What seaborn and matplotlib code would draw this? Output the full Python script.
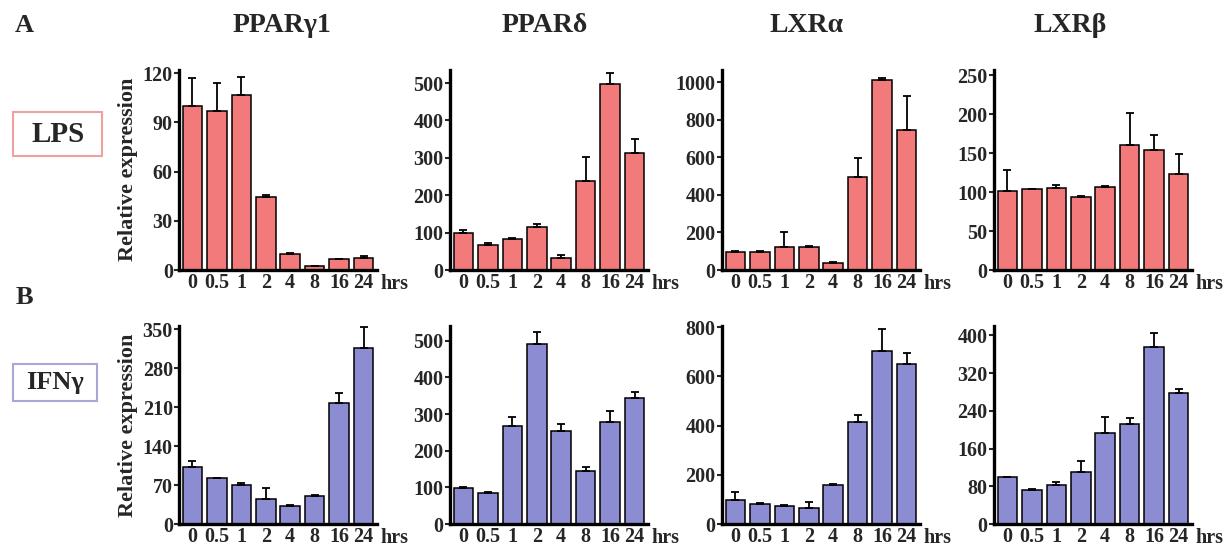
import numpy as np
import matplotlib
matplotlib.use('Agg')
import matplotlib.pyplot as plt
from matplotlib.patches import Rectangle
import seaborn as sns

# Data
hours = ['0', '0.5', '1', '2', '4', '8', '16', '24']
genes = ['PPARγ1', 'PPARδ', 'LXRα', 'LXRβ']

lps_ppar_g1 = [100, 97, 107, 44.5, 10, 2.2, 6.5, 7.5]
lps_ppar_g1_err = [17, 17, 10.5, 1.5, 0.6, 0.4, 0.5, 0.8]
lps_ppar_d = [100, 66, 82, 114, 33, 239, 497, 312]
lps_ppar_d_err = [7, 6, 3, 8, 6, 63, 29, 38]
lps_lxr_a = [97, 97, 125, 123, 39, 497, 1010, 745]
lps_lxr_a_err = [3, 5, 80, 4, 3, 97, 10, 180]
lps_lxr_b = [101, 104, 106, 93.5, 107, 160, 154, 124]
lps_lxr_b_err = [27, 0.7, 3, 1.5, 1.5, 42, 20, 25]

ifn_ppar_g1 = [102, 83, 70, 44.5, 32.6, 50, 218, 316]
ifn_ppar_g1_err = [12, 0.5, 4, 20, 1.4, 3, 18, 38]
ifn_ppar_d = [97, 85, 268, 491, 255, 144, 279, 345]
ifn_ppar_d_err = [3, 1.5, 23, 34, 18, 12, 30, 14]
ifn_lxr_a = [99, 83, 75, 66, 159, 414, 704, 652]
ifn_lxr_a_err = [33, 1, 4, 23, 4, 28, 87, 42]
ifn_lxr_b = [99, 72, 82, 110, 193, 213, 375, 277]
ifn_lxr_b_err = [1, 2, 8, 24, 33, 11, 30, 9]

lps_yticks = [[0, 30, 60, 90, 120], [0, 100, 200, 300, 400, 500],
              [0, 200, 400, 600, 800, 1000], [0, 50, 100, 150, 200, 250]]
lps_ytop = [122, 535, 1065, 257]
ifn_yticks = [[0, 70, 140, 210, 280, 350], [0, 100, 200, 300, 400, 500],
              [0, 200, 400, 600, 800], [0, 80, 160, 240, 320, 400]]
ifn_ytop = [356, 540, 805, 420]

LPS_COLOR = '#F27A7A'
IFN_COLOR = '#8C8CD2'
TICK_SIZE = 14.5

sns.set_style('ticks')
plt.rcParams['font.family'] = ['Liberation Serif', 'DejaVu Serif']
plt.rcParams['font.weight'] = 'bold'

W, H = 1225, 548
fig = plt.figure(figsize=(W / 100, H / 100), dpi=100)

lefts = [179, 450, 722, 994]
rows = [
    dict(bottom=270, top=70, color=LPS_COLOR,
         vals=[lps_ppar_g1, lps_ppar_d, lps_lxr_a, lps_lxr_b],
         errs=[lps_ppar_g1_err, lps_ppar_d_err, lps_lxr_a_err, lps_lxr_b_err],
         yticks=lps_yticks, ytop=lps_ytop),
    dict(bottom=524, top=326, color=IFN_COLOR,
         vals=[ifn_ppar_g1, ifn_ppar_d, ifn_lxr_a, ifn_lxr_b],
         errs=[ifn_ppar_g1_err, ifn_ppar_d_err, ifn_lxr_a_err, ifn_lxr_b_err],
         yticks=ifn_yticks, ytop=ifn_ytop),
]


def draw_panel(ax, vals, errs, color, yticks, ytop):
    """ Bar chart with upward-only error bars. """
    sns.barplot(ax=ax, x=hours, y=vals, color=color, edgecolor='black',
                linewidth=1.1, width=0.8, saturation=1)
    x = np.arange(len(hours))
    ax.errorbar(x, vals, yerr=[np.zeros(len(vals)), errs], fmt='none',
                ecolor='black', elinewidth=1.3, capsize=3, capthick=1.3)
    ax.set_xlim(-0.55, 7.55)
    ax.set_ylim(0, ytop)
    ax.set_yticks(yticks)
    sns.despine(ax=ax)
    for s in ['left', 'bottom']:
        ax.spines[s].set_linewidth(2.4)
        ax.spines[s].set_color('black')
    ax.tick_params(axis='y', length=3.5, width=1.5, pad=1, labelsize=TICK_SIZE)
    ax.tick_params(axis='x', length=0, pad=2, labelsize=TICK_SIZE)
    ax.set_xlabel('')
    ax.set_ylabel('')
    ax.text(1.09, -0.072, 'hrs', transform=ax.transAxes, ha='center',
            va='center', fontsize=TICK_SIZE, fontweight='bold')


for row in rows:
    for i in range(4):
        ax = fig.add_axes([lefts[i] / W, 1 - row['bottom'] / H, 198 / W,
                           (row['bottom'] - row['top']) / H])
        draw_panel(ax, row['vals'][i], row['errs'][i], row['color'],
                   row['yticks'][i], row['ytop'][i])

# Column titles and panel letters
title_x = [282, 545, 807, 1070]
for gx, g in zip(title_x, genes):
    fig.text(gx / W, 1 - 25 / H, g, ha='center', va='center',
             fontsize=20, fontweight='bold')
fig.text(24 / W, 1 - 25 / H, 'A', ha='center', va='center', fontsize=19, fontweight='bold')
fig.text(24 / W, 1 - 297 / H, 'B', ha='center', va='center', fontsize=19, fontweight='bold')

# Treatment boxes
fig.patches.append(Rectangle((13 / W, 1 - 156 / H), 89 / W, 44 / H, transform=fig.transFigure,
                             fill=False, edgecolor='#F0A0A0', linewidth=1.5))
fig.text(58 / W, 1 - 134 / H, 'LPS', ha='center', va='center', fontsize=21, fontweight='bold')
fig.patches.append(Rectangle((13 / W, 1 - 401 / H), 84 / W, 37 / H, transform=fig.transFigure,
                             fill=False, edgecolor='#A8A8D8', linewidth=1.5))
fig.text(55 / W, 1 - 383 / H, 'IFNγ', ha='center', va='center', fontsize=19, fontweight='bold')

# Y labels
fig.text(128 / W, 1 - 169 / H, 'Relative expression', rotation=90, ha='center',
         va='center', fontsize=16, fontweight='bold')
fig.text(128 / W, 1 - 425 / H, 'Relative expression', rotation=90, ha='center',
         va='center', fontsize=16, fontweight='bold')

fig.savefig('out.png', dpi=100)
